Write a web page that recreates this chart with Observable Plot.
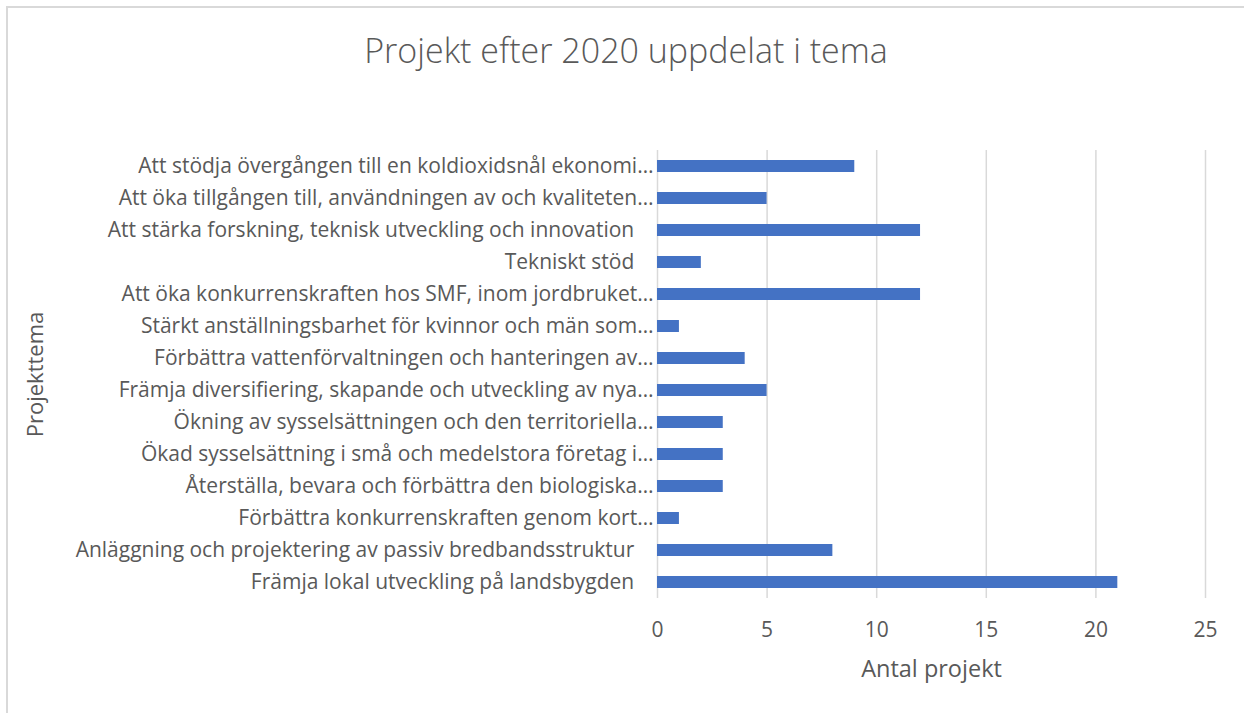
<!DOCTYPE html>
<html>
<head>
<meta charset="utf-8">
<script src="https://cdn.jsdelivr.net/npm/d3@7"></script>
<script src="https://cdn.jsdelivr.net/npm/@observablehq/plot@0.6"></script>
<style>
  body { margin: 0; background: #fff; font-family: "Open Sans", sans-serif; }
  #wrap { position: relative; width: 1244px; height: 713px; overflow: hidden; }
  #frame { position: absolute; left: 6px; top: 6px; width: 1250px; height: 720px; border-left: 2px solid #d9d9d9; border-top: 2px solid #d9d9d9; box-sizing: border-box; pointer-events: none; }
  #title { height: 100px; line-height: 100px; text-align: center; font-size: 34px; color: #595959; font-weight: 300; padding-left: 8px; }
</style>
</head>
<body>
<div id="wrap">
  <div id="frame"></div>
  <div id="title">Projekt efter 2020 uppdelat i tema</div>
  <div id="chart"></div>
</div>
<script>
const categories = [
  "Att stödja övergången till en koldioxidsnål ekonomi…",
  "Att öka tillgången till, användningen av och kvaliteten…",
  "Att stärka forskning, teknisk utveckling och innovation",
  "Tekniskt stöd",
  "Att öka konkurrenskraften hos SMF, inom jordbruket…",
  "Stärkt anställningsbarhet för kvinnor och män som…",
  "Förbättra vattenförvaltningen och hanteringen av…",
  "Främja diversifiering, skapande och utveckling av nya…",
  "Ökning av sysselsättningen och den territoriella…",
  "Ökad sysselsättning i små och medelstora företag i…",
  "Återställa, bevara och förbättra den biologiska…",
  "Förbättra konkurrenskraften genom kort…",
  "Anläggning och projektering av passiv bredbandsstruktur",
  "Främja lokal utveckling på landsbygden"
];
const values = [9, 5, 12, 2, 12, 1, 4, 5, 3, 3, 3, 1, 8, 21];
const xTicks = [0, 5, 10, 15, 20, 25];

const data = categories.map((c, i) => ({ tema: c, antal: values[i] }));

const chart = Plot.plot({
  width: 1244,
  height: 613,
  marginTop: 50,
  marginBottom: 115,
  marginLeft: 657,
  marginRight: 39,
  style: { fontFamily: "Open Sans, sans-serif", fontSize: "21px", color: "#595959", background: "transparent" },
  x: { domain: [0, 25], ticks: xTicks, label: null },
  y: { domain: categories, paddingInner: 0.64, paddingOuter: 0.32, label: null },
  marks: [
    Plot.gridX(xTicks, { stroke: "#d9d9d9", strokeOpacity: 1, strokeWidth: 1.5 }),
    Plot.barX(data, { x: "antal", y: "tema", fill: "#4472C4" }),
    Plot.axisX(xTicks, { tickSize: 0, tickPadding: 24, fontSize: 21, fill: "#595959", label: null }),
    Plot.axisY({ tickSize: 0, tickPadding: 4, fontSize: 21, fill: "#595959", label: null,
      tickFormat: d => d.endsWith("…") ? d : d + "\u2002\u2005\u2009" }),
    Plot.text(["Antal projekt"], { frameAnchor: "bottom", dy: 78, fontSize: 23.5, fill: "#595959" }),
    Plot.text(["Projekttema"], { frameAnchor: "left", textAnchor: "middle", dx: -622, rotate: -90, fontSize: 22, fill: "#595959" })
  ]
});
document.getElementById("chart").appendChild(chart);
</script>
</body>
</html>
